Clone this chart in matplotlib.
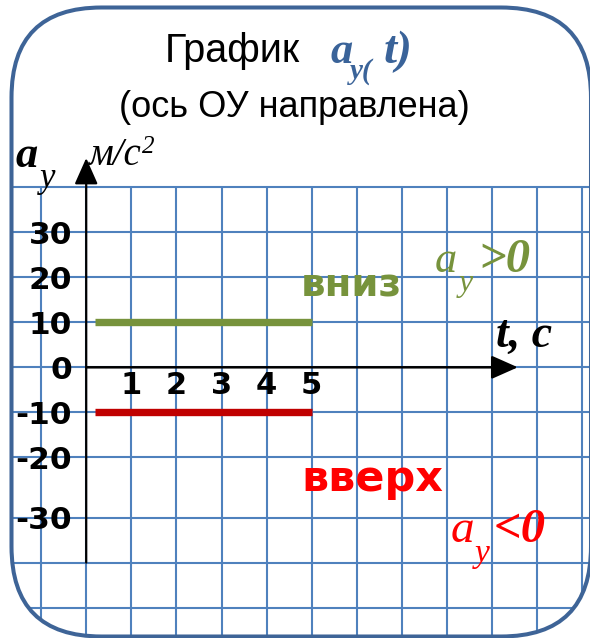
import matplotlib
matplotlib.use("Agg")
import matplotlib.pyplot as plt
from matplotlib.patches import FancyBboxPatch, ArrowStyle
from matplotlib.transforms import IdentityTransform, ScaledTranslation, blended_transform_factory

# ---------------- data ----------------
time_s = [0.2, 5]                 # t, c
ay_down = [10, 10]                # ось OY вниз  -> a_y > 0
ay_up = [-10, -10]                # ось OY вверх -> a_y < 0
x_ticks = [1, 2, 3, 4, 5]
x_tick_labels = ["1", "2", "3", "4", "5"]
y_tick_labels = ["30", "20", "10", "0", "-10", "-20", "-30"]
y_tick_rows = [30, 20, 10, 0, -10, -20, -33.4]     # grid row of each label
grid_cols = list(range(-1, 12))
grid_rows = [40, 30, 20, 10, 0, -10, -20, -33.4, -43.4, -53.4]

# ---------------- style ----------------
W, H, DPI = 590, 638, 100
GRID = "#4F81BD"
FRAME = "#3E6497"
BLUE = "#3A6399"
GREEN = "#77933C"
RED_LINE = "#C00000"
RED = "#FF0000"
SANS = ["Liberation Sans", "DejaVu Sans"]
SERIF = ["Liberation Serif", "DejaVu Serif"]
BOLD = ["DejaVu Sans"]

fig = plt.figure(figsize=(W / DPI, H / DPI), dpi=DPI)
ax = fig.add_axes([0, 0, 1, 1])
ox, sx = 86.2, 45.1      # pixel of t=0, pixels per second
oy, sy = 367.3, 4.5      # pixel of a=0 (from top), pixels per m/s^2
ax.set_xlim(-ox / sx, (W - ox) / sx)
ax.set_ylim(-(H - oy) / sy, oy / sy)
ax.axis("off")


def P(x, y):
    return x / W, 1 - y / H


# rounded frame
frame = FancyBboxPatch((11.5, H - 636.5), 591 - 11.5, 636.5 - 7.5,
                       boxstyle="round,pad=0,rounding_size=90",
                       transform=IdentityTransform(), fc="none", ec=FRAME,
                       lw=2.9, zorder=5)
fig.add_artist(frame)

# grid
xl = ax.get_xlim()
yl = ax.get_ylim()
vl = ax.vlines(grid_cols, yl[0], grid_rows[0], colors=GRID, lw=1.5, zorder=1)
hl = ax.hlines(grid_rows, xl[0], xl[1], colors=GRID, lw=1.5, zorder=1)
vl.set_clip_path(frame)
hl.set_clip_path(frame)

# axes with arrows
head = ArrowStyle("-|>", head_length=0.45, head_width=0.2)
ax.annotate("", xy=(0, 46.5), xytext=(0, grid_rows[-2]),
            arrowprops=dict(arrowstyle=head, mutation_scale=36, lw=1.6,
                            color="black", shrinkA=0, shrinkB=0), zorder=3)
ax.annotate("", xy=(9.57, 0), xytext=(0, 0),
            arrowprops=dict(arrowstyle=head, mutation_scale=36, lw=1.8,
                            color="black", shrinkA=0, shrinkB=0), zorder=3)

# data lines
ax.plot(time_s, ay_down, color=GREEN, lw=5.3, solid_capstyle="butt", zorder=4)
ax.plot(time_s, ay_up, color=RED_LINE, lw=5.3, solid_capstyle="butt", zorder=4)

# tick labels
ytr = blended_transform_factory(fig.transFigure, ax.transData) + \
    ScaledTranslation(0, -11.4 / DPI, fig.dpi_scale_trans)
for lab, r in zip(y_tick_labels, y_tick_rows):
    ax.text(72 / W, r, lab, transform=ytr, ha="right", va="baseline",
            fontsize=22.5, family=BOLD, weight="bold", zorder=6)
xtr = ax.transData + ScaledTranslation(0, -26.5 / DPI, fig.dpi_scale_trans)
for t, lab in zip(x_ticks, x_tick_labels):
    ax.text(t, 0, lab, transform=xtr, ha="center", va="baseline",
            fontsize=22, family=BOLD, weight="bold", zorder=6)

# title
fig.text(*P(165, 62), "График", fontsize=28.5, family=SANS, va="baseline")
fig.text(*P(330, 63), "a", fontsize=32, family=SERIF, style="italic",
         weight="bold", color=BLUE, va="baseline")
fig.text(*P(350, 79), "y(", fontsize=21, family=SERIF, style="italic",
         weight="bold", color=BLUE, va="baseline")
fig.text(*P(384, 63), "t)", fontsize=34, family=SERIF, style="italic",
         weight="bold", color=BLUE, va="baseline")
fig.text(*P(294, 117), "(ось ОУ направлена)", fontsize=26, family=SANS,
         ha="center", va="baseline")

# axis labels
fig.text(*P(15, 167), "a", fontsize=32, family=SERIF, style="italic",
         weight="bold", va="baseline")
fig.text(*P(40, 187), "y", fontsize=25, family=SERIF, style="italic",
         va="baseline")
fig.text(*P(88, 165), "м/с", fontsize=28, family=SERIF, style="italic",
         va="baseline")
fig.text(*P(142, 153), "2", fontsize=18, family=SERIF, style="italic",
         va="baseline")
fig.text(*P(496, 347), "t, c", fontsize=33, family=SERIF, style="italic",
         weight="bold", va="baseline")

# annotations
fig.text(*P(301, 297), "вниз", fontsize=28, family=BOLD, weight="bold",
         color=GREEN, va="baseline")
fig.text(*P(301, 491), "вверх", fontsize=31, family=BOLD, weight="bold",
         color=RED, va="baseline")
fig.text(*P(435, 272), "a", fontsize=32, family=SERIF, style="italic",
         color=GREEN, va="baseline")
fig.text(*P(459, 291), "y", fontsize=23, family=SERIF, style="italic",
         color=GREEN, va="baseline")
fig.text(*P(478, 272), ">0", fontsize=35, family=SERIF, style="italic",
         weight="bold", color=GREEN, va="baseline")
fig.text(*P(451, 542), "a", fontsize=34, family=SERIF, style="italic",
         color=RED, va="baseline")
fig.text(*P(475, 562), "y", fontsize=24, family=SERIF, style="italic",
         color=RED, va="baseline")
fig.text(*P(494, 542), "<0", fontsize=35, family=SERIF, style="italic",
         weight="bold", color=RED, va="baseline")

fig.savefig("out.png", dpi=DPI)
